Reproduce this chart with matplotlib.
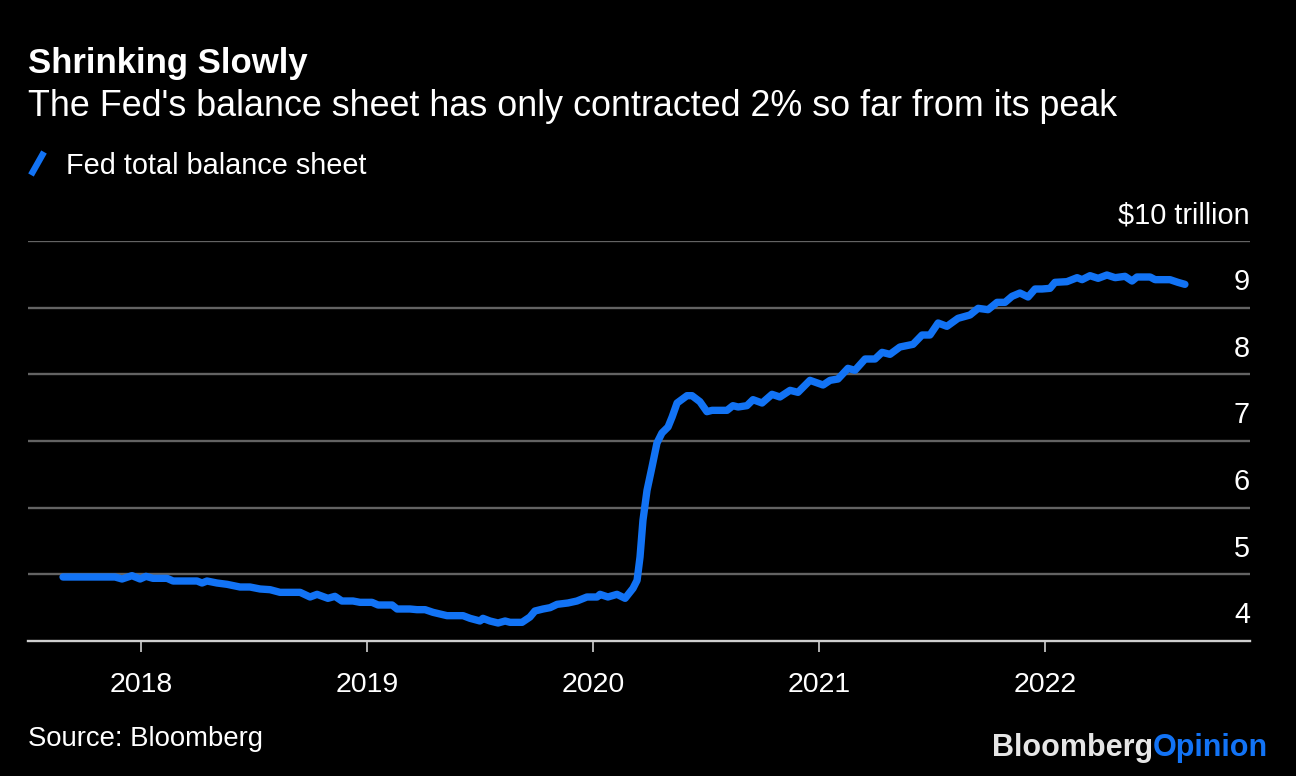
import matplotlib
matplotlib.use("Agg")
import matplotlib.pyplot as plt
from matplotlib.lines import Line2D

# Fed total balance sheet (decimal year, $ trillion)
years = [
    2017.655, 2017.885, 2017.916, 2017.960, 2017.996, 2018.022, 2018.053, 2018.115,
    2018.142, 2018.248, 2018.270, 2018.292, 2018.336, 2018.381, 2018.438, 2018.482,
    2018.527, 2018.571, 2018.615, 2018.704, 2018.748, 2018.779, 2018.827, 2018.858,
    2018.889, 2018.938, 2018.969, 2019.022, 2019.049, 2019.111, 2019.133, 2019.190,
    2019.221, 2019.257, 2019.292, 2019.354, 2019.425, 2019.456, 2019.500, 2019.513,
    2019.544, 2019.580, 2019.611, 2019.633, 2019.686, 2019.721, 2019.743, 2019.779,
    2019.810, 2019.841, 2019.889, 2019.929, 2019.973, 2020.018, 2020.031, 2020.066,
    2020.106, 2020.142, 2020.177, 2020.195, 2020.208, 2020.221, 2020.239, 2020.261,
    2020.283, 2020.305, 2020.332, 2020.350, 2020.372, 2020.416, 2020.438, 2020.473,
    2020.504, 2020.527, 2020.593, 2020.619, 2020.642, 2020.681, 2020.708, 2020.748,
    2020.792, 2020.827, 2020.872, 2020.907, 2020.960, 2021.018, 2021.049, 2021.084,
    2021.128, 2021.159, 2021.204, 2021.248, 2021.279, 2021.314, 2021.358, 2021.416,
    2021.456, 2021.491, 2021.527, 2021.566, 2021.615, 2021.668, 2021.704, 2021.748,
    2021.788, 2021.823, 2021.854, 2021.889, 2021.925, 2021.956, 2021.987, 2022.022,
    2022.044, 2022.097, 2022.142, 2022.164, 2022.199, 2022.235, 2022.274, 2022.310,
    2022.354, 2022.385, 2022.407, 2022.465, 2022.487, 2022.553, 2022.588, 2022.619,
]
values = [
    4.96, 4.96, 4.93, 4.98, 4.93, 4.97, 4.94, 4.94,
    4.90, 4.90, 4.87, 4.90, 4.87, 4.85, 4.81, 4.81,
    4.78, 4.77, 4.73, 4.73, 4.66, 4.70, 4.64, 4.67,
    4.60, 4.60, 4.58, 4.58, 4.54, 4.54, 4.48, 4.48,
    4.47, 4.47, 4.43, 4.38, 4.38, 4.34, 4.30, 4.34,
    4.30, 4.27, 4.30, 4.28, 4.28, 4.36, 4.45, 4.48,
    4.50, 4.55, 4.57, 4.60, 4.66, 4.66, 4.70, 4.66,
    4.70, 4.64, 4.79, 4.91, 5.26, 5.81, 6.26, 6.61,
    6.97, 7.12, 7.21, 7.36, 7.57, 7.68, 7.68, 7.59,
    7.44, 7.46, 7.46, 7.53, 7.51, 7.53, 7.62, 7.57,
    7.70, 7.66, 7.76, 7.73, 7.91, 7.84, 7.91, 7.93,
    8.09, 8.06, 8.23, 8.23, 8.33, 8.30, 8.41, 8.45,
    8.59, 8.59, 8.77, 8.72, 8.84, 8.89, 8.99, 8.97,
    9.08, 9.08, 9.17, 9.22, 9.16, 9.28, 9.28, 9.29,
    9.38, 9.39, 9.45, 9.42, 9.48, 9.44, 9.49, 9.45,
    9.47, 9.40, 9.46, 9.46, 9.42, 9.42, 9.38, 9.35,
]

x_ticks = [2018, 2019, 2020, 2021, 2022]
y_ticks = [4, 5, 6, 7, 8, 9, 10]
y_labels = ["4", "5", "6", "7", "8", "9", "$10 trillion"]

BLUE = "#1273f5"
FONT = ["Liberation Sans", "DejaVu Sans"]
plt.rcParams["font.family"] = FONT

fig = plt.figure(figsize=(12.96, 7.76), dpi=100, facecolor="black")
ax = fig.add_axes([28 / 1296, 1 - 641 / 776, (1250 - 28) / 1296, 400 / 776])
ax.set_facecolor("black")

# gridlines
for v in y_ticks[1:]:
    ax.axhline(v, color="#636363", linewidth=1.7, zorder=1)

ax.plot(years, values, color=BLUE, linewidth=5.3, solid_capstyle="round",
        solid_joinstyle="round", zorder=3)

ax.set_xlim(2017.5, 2022.907)
ax.set_ylim(4, 10)

for s in ["top", "right", "left"]:
    ax.spines[s].set_visible(False)
ax.spines["bottom"].set_color("#d0d0d0")
ax.spines["bottom"].set_linewidth(1.7)

ax.set_xticks(x_ticks)
ax.set_xticklabels([str(y) for y in x_ticks])
ax.tick_params(axis="x", colors="#d0d0d0", length=8, width=1.2, pad=14,
               labelsize=20.5, labelcolor="white")
ax.set_yticks([])

# right-side value labels sitting above each gridline
for v, lab in zip(y_ticks, y_labels):
    ax.annotate(lab, xy=(1, v), xycoords=("axes fraction", "data"),
                xytext=(0, 8.5), textcoords="offset points",
                ha="right", va="bottom", color="white", fontsize=20.8)

# title block
fig.text(28 / 1296, 1 - 64 / 776, "Shrinking Slowly", color="white",
         fontsize=25, fontweight="bold", va="center", ha="left")
fig.text(28 / 1296, 1 - 106 / 776,
         "The Fed's balance sheet has only contracted 2% so far from its peak",
         color="white", fontsize=25.8, va="center", ha="left")

# legend
fig.add_artist(Line2D([31 / 1296, 44 / 1296], [1 - 175 / 776, 1 - 152 / 776],
                      color=BLUE, linewidth=4.6, solid_capstyle="butt"))
fig.text(66 / 1296, 1 - 166 / 776, "Fed total balance sheet", color="white",
         fontsize=20.8, va="center", ha="left")

fig.text(28 / 1296, 1 - 739 / 776, "Source: Bloomberg", color="white",
         fontsize=19.8, va="center", ha="left")

# logo
fig.canvas.draw()
opin = fig.text(1268 / 1296, 1 - 748 / 776, "Opinion", color=BLUE,
                fontsize=22, fontweight="bold", va="center", ha="right")
fig.canvas.draw()
bb = opin.get_window_extent()
fig.text(bb.x0 / fig.bbox.width, 1 - 748 / 776, "Bloomberg", color="#e6e6e6",
         fontsize=22, fontweight="bold", va="center", ha="right")

fig.savefig("out.png", dpi=100, facecolor="black")
